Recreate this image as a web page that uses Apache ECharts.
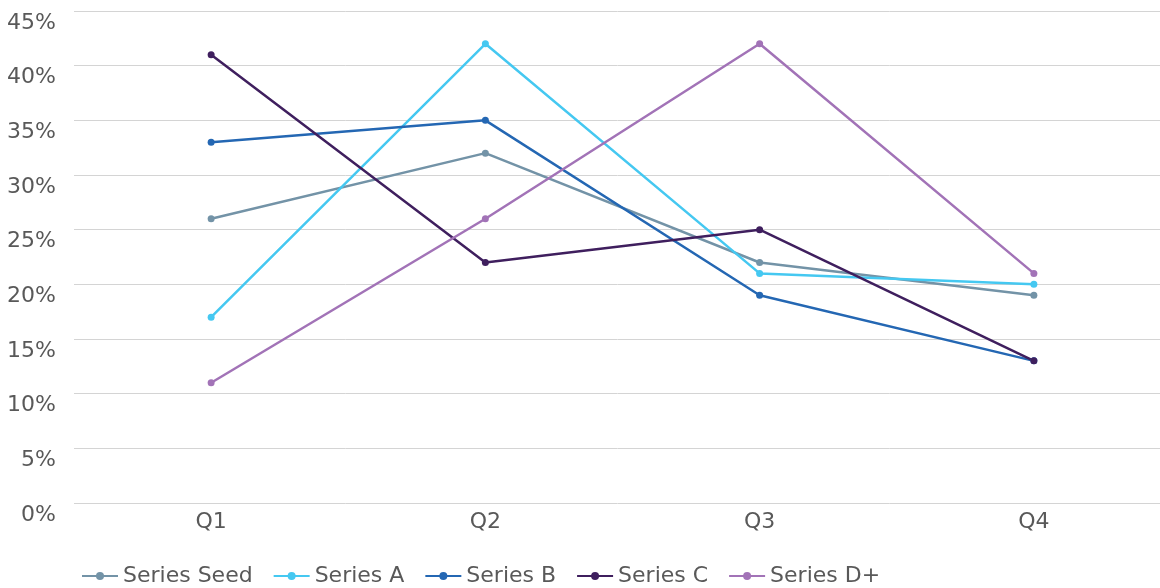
<!DOCTYPE html>
<html>
<head>
<meta charset="utf-8">
<script src="https://cdn.jsdelivr.net/npm/echarts@6/dist/echarts.min.js"></script>
<style>
  html, body { margin: 0; padding: 0; background: #fff; }
  #chart { width: 1160px; height: 588px; }
</style>
</head>
<body>
<div id="chart"></div>
<script>
  // quarters on the x axis
  const quarters = ['Q1', 'Q2', 'Q3', 'Q4']
  // values in percent
  const seriesSeed = [26, 32, 22, 19]
  const seriesA = [17, 42, 21, 20]
  const seriesB = [33, 35, 19, 13]
  const seriesC = [41, 22, 25, 13]
  const seriesD = [11, 26, 42, 21]
  const seriesNames = ['Series Seed', 'Series A', 'Series B', 'Series C', 'Series D+']
  const colors = ['#7393a7', '#45c8f1', '#2467b3', '#3f1f5e', '#a273b7']

  const chart = echarts.init(document.getElementById('chart'))

  const makeLine = (name, data, i) => ({
    name: name,
    type: 'line',
    data: data,
    symbol: 'circle',
    symbolSize: 7,
    lineStyle: { width: 2.5, color: colors[i] },
    itemStyle: { color: colors[i] }
  })

  const font = 'DejaVu Sans'

  const option = {
    animation: false,
    textStyle: { fontFamily: font },
    grid: { left: 74, top: 11, right: -11, bottom: 85, outerBoundsMode: 'none', containLabel: false },
    legend: {
      bottom: -4,
      left: 76,
      itemWidth: 36,
      itemHeight: 10,
      itemGap: 20,
      textStyle: { fontSize: 22, color: '#595959', fontFamily: font },
      data: seriesNames
    },
    xAxis: {
      type: 'category',
      data: quarters,
      boundaryGap: true,
      axisLine: { show: false },
      axisTick: { show: false },
      axisLabel: { fontSize: 22, color: '#595959', margin: 8 }
    },
    yAxis: {
      type: 'value',
      min: 0,
      max: 45,
      interval: 5,
      axisLine: { show: false },
      axisTick: { show: false },
      // labels sit a little below their grid lines in the original
      axisLabel: { fontSize: 22, color: '#595959', margin: 18, verticalAlign: 'top', lineHeight: 24, formatter: '{value}%' },
      splitLine: { lineStyle: { color: '#d4d4d4', width: 1 } }
    },
    series: [
      makeLine(seriesNames[0], seriesSeed, 0),
      makeLine(seriesNames[1], seriesA, 1),
      makeLine(seriesNames[2], seriesB, 2),
      makeLine(seriesNames[3], seriesC, 3),
      makeLine(seriesNames[4], seriesD, 4)
    ]
  }

  chart.setOption(option)
</script>
</body>
</html>
